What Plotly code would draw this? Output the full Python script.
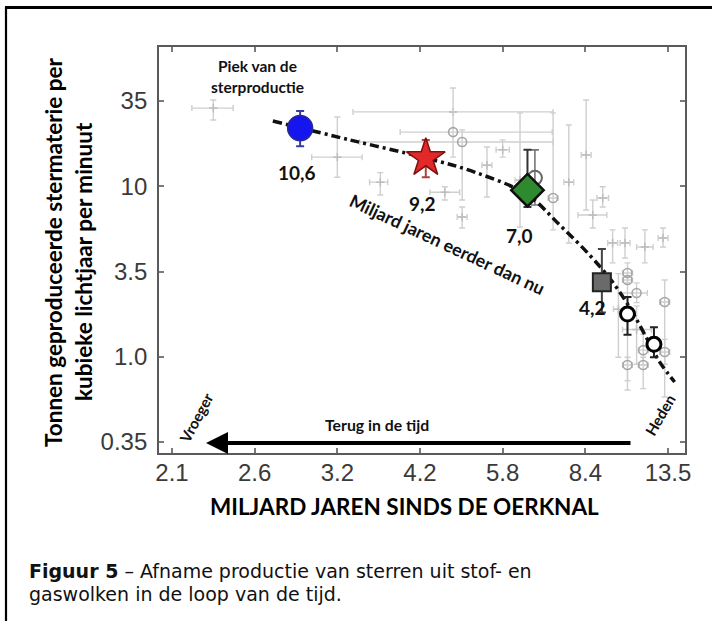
import math
import plotly.graph_objects as go

# ---------------- data ----------------
x_tick_labels = ["2.1", "2.6", "3.2", "4.2", "5.8", "8.4", "13.5"]
y_tick_labels = ["0.35", "1.0", "3.5", "10", "35"]

# main highlighted measurements (x in tick-index units, y in tonnes)
main_x = [1.55, 3.07, 4.30, 5.20, 5.51, 5.83]
main_y = [24.3, 16.2, 10.5, 3.03, 1.97, 1.31]
main_lo = [19.0, 12.5, 8.35, 2.01, 1.49, 1.10]
main_hi = [30.6, 20.7, 18.1, 4.75, 2.48, 1.65]
main_labels = ["10,6", "9,2", "7,0", "4,2", "", ""]

# fitted trend (dash-dot curve)
fit_x = [1.22, 2.15, 3.07, 3.66, 4.30, 4.69, 5.05, 5.33, 5.54, 5.72, 5.90, 6.08]
fit_y = [26.7, 20.7, 16.2, 13.4, 9.84, 6.56, 4.38, 3.03, 2.14, 1.49, 1.03, 0.787]

# background measurements: crosses
bgc_x = [0.50, 2.00, 2.52, 3.30, 3.81, 4.00, 4.21, 4.80, 5.01, 5.09, 5.21, 3.51, 5.33, 5.48, 5.72, 5.94, 3.40, 5.40, 5.62]
bgc_y = [31.8, 16.4, 11.7, 10.2, 14.7, 18.1, 12.0, 11.7, 16.9, 7.51, 9.44, 7.31, 5.14, 5.14, 4.87, 5.50, 30.2, 2.10, 1.60]
bgc_xlo = [0.24, 1.69, 2.39, 3.12, 3.75, 3.92, 4.15, 4.74, 4.95, 4.91, 5.14, 3.45, 5.27, 5.42, 5.62, 5.88, 2.19, 5.34, 5.45]
bgc_xhi = [0.74, 2.30, 2.61, 3.48, 3.87, 4.08, 4.27, 4.86, 5.07, 5.26, 5.28, 3.57, 5.39, 5.54, 5.82, 6.00, 4.61, 5.46, 5.80]
bgc_ylo = [27.1, 12.5, 9.84, 9.19, 9.57, 16.4, 6.38, 5.14, 8.03, 6.30, 8.36, 6.30, 3.93, 4.20, 3.93, 4.87, 30.2, 1.10, 1.00]
bgc_yhi = [35.5, 28.2, 13.3, 11.0, 18.8, 20.7, 29.8, 25.3, 35.5, 9.19, 11.0, 8.36, 6.14, 6.30, 6.14, 6.30, 30.2, 3.40, 2.20]

# background measurements: open circles
bgo_x = [3.40, 3.51, 4.61, 5.51, 5.51, 5.62, 5.96, 5.70, 5.51, 5.70, 5.96]
bgo_y = [23.0, 20.1, 9.44, 3.43, 3.12, 2.62, 2.32, 1.21, 0.99, 0.99, 1.18]
bgo_xlo = [2.76, 2.27, 4.55, 5.45, 5.45, 5.40, 5.90, 5.64, 5.45, 5.64, 5.90]
bgo_xhi = [4.60, 4.61, 4.67, 5.57, 5.57, 5.75, 6.02, 5.76, 5.57, 5.76, 6.02]
bgo_ylo = [16.4, 9.19, 6.14, 0.706, 3.0, 2.30, 0.643, 0.99, 0.80, 0.72, 1.0]
bgo_yhi = [41.7, 23.7, 29.8, 3.93, 3.3, 3.00, 3.12, 1.50, 1.10, 1.10, 1.4]

# hidden dark open circle behind the green diamond
dark_x = [4.39]
dark_y = [12.4]
dark_lo = [8.6]
dark_hi = [18.1]

# ---------------- layout geometry ----------------
W, H = 712, 621
L, R, T, B = 159, 685, 47, 453
PW, PH = R - L, B - T


def px(xp):
    return (xp - L) / PW


def py(yp):
    return (B - yp) / PH


def plus_minus(v, lo, hi):
    return [h - c for c, h in zip(v, hi)], [c - l for c, l in zip(v, lo)]


fig = go.Figure()

GRAY = "#cfcfcf"

# background crosses
ep, em = plus_minus(bgc_y, bgc_ylo, bgc_yhi)
xp_, xm_ = plus_minus(bgc_x, bgc_xlo, bgc_xhi)
fig.add_trace(go.Scatter(
    x=bgc_x, y=bgc_y, mode="markers",
    marker=dict(symbol="cross-thin", size=6, line=dict(color="#bdbdbd", width=1.5)),
    error_y=dict(type="data", symmetric=False, array=ep, arrayminus=em, color=GRAY, thickness=1.4, width=3),
    error_x=dict(type="data", symmetric=False, array=xp_, arrayminus=xm_, color=GRAY, thickness=1.4, width=3),
    hoverinfo="skip", showlegend=False))

# background open circles
ep, em = plus_minus(bgo_y, bgo_ylo, bgo_yhi)
xp_, xm_ = plus_minus(bgo_x, bgo_xlo, bgo_xhi)
fig.add_trace(go.Scatter(
    x=bgo_x, y=bgo_y, mode="markers",
    marker=dict(symbol="circle-open", size=9, color="#a5a5a5", line=dict(width=1.6)),
    error_y=dict(type="data", symmetric=False, array=ep, arrayminus=em, color=GRAY, thickness=1.4, width=3),
    error_x=dict(type="data", symmetric=False, array=xp_, arrayminus=xm_, color=GRAY, thickness=1.4, width=3),
    hoverinfo="skip", showlegend=False))

ep, em = plus_minus(dark_y, dark_lo, dark_hi)
fig.add_trace(go.Scatter(
    x=dark_x, y=dark_y, mode="markers",
    marker=dict(symbol="circle-open", size=14, color="#666666", line=dict(width=2)),
    error_y=dict(type="data", symmetric=False, array=ep, arrayminus=em, color="#777777", thickness=1.6, width=4),
    hoverinfo="skip", showlegend=False))

# trend curve
fig.add_trace(go.Scatter(
    x=fit_x, y=fit_y, mode="lines",
    line=dict(color="#111111", width=3.5, dash="9px,4px,3px,4px", shape="spline"),
    hoverinfo="skip", showlegend=False))

# main points with individual styling
styles = [
    dict(symbol="circle", size=25, color="#1515f0", line=dict(color="#2a2a90", width=1.5), err="#3a3aa0"),
    dict(symbol="star", size=29, color="#e22828", line=dict(color="#801010", width=1.5), err="#b04040"),
    dict(symbol="diamond", size=25, color="#2e8a2e", line=dict(color="#101010", width=2.5), err="#333333"),
    dict(symbol="square", size=18, color="#6a6a6a", line=dict(color="#222222", width=2), err="#444444"),
    dict(symbol="circle", size=14, color="#ffffff", line=dict(color="#000000", width=3), err="#222222"),
    dict(symbol="circle", size=14, color="#ffffff", line=dict(color="#000000", width=3), err="#222222"),
]
for i, st in enumerate(styles):
    fig.add_trace(go.Scatter(
        x=[main_x[i]], y=[main_y[i]], mode="markers",
        marker=dict(symbol=st["symbol"], size=st["size"], color=st["color"], line=st["line"]),
        error_y=dict(type="data", symmetric=False,
                     array=[main_hi[i] - main_y[i]], arrayminus=[main_y[i] - main_lo[i]],
                     color=st["err"], thickness=2, width=4),
        hoverinfo="skip", showlegend=False))

annotations = []
label_shift = [(-3, -44), (-3, -45), (-8, -45), (-9, -25)]
for i, lab in enumerate(main_labels):
    if not lab:
        continue
    annotations.append(dict(
        x=main_x[i], y=math.log10(main_y[i]), xref="x", yref="y",
        xanchor="center", yanchor="middle",
        text="<b>%s</b>" % lab, showarrow=False,
        xshift=label_shift[i][0], yshift=label_shift[i][1],
        font=dict(family="Lato", size=19, color="#111111")))


def note(xp, yp, text, size, angle=0, family="Lato", color="#111111", xanchor="center"):
    return dict(x=px(xp), y=py(yp), xref="paper", yref="paper", text=text,
                xanchor=xanchor, yanchor="middle", showarrow=False, textangle=angle,
                font=dict(size=size, family=family, color=color))


annotations += [
    note(257, 66, "<b>Piek van de</b>", 15.5),
    note(257, 87, "<b>sterproductie</b>", 15.5),
    note(447, 244, "<b>Miljard jaren eerder dan nu</b>", 17.8, angle=25),
    note(377, 424, "<b>Terug in de tijd</b>", 15.8),
    note(196, 418, "<b>Vroeger</b>", 15, angle=-62),
    note(660, 415, "<b>Heden</b>", 15, angle=-60),
    # axis titles
    note(53, 252, "<b>Tonnen geproduceerde stermaterie per</b>", 22.5, angle=-90, color="#000000"),
    note(83, 262, "<b>kubieke lichtjaar per minuut</b>", 22.5, angle=-90, color="#000000"),
    note(404, 506, "<b>MILJARD JAREN SINDS DE OERKNAL</b>", 22.5, color="#000000"),
    # caption
    note(27, 571, "<b>Figuur 5</b> \u2013 Afname productie van sterren uit stof- en", 19,
         family="DejaVu Sans", xanchor="left"),
    note(27, 594, "gaswolken in de loop van de tijd.", 19, family="DejaVu Sans", xanchor="left"),
    # arrow
    dict(x=px(206), y=py(443), xref="paper", yref="paper", ax=632 - 206, ay=0,
         axref="pixel", ayref="pixel", text="", showarrow=True,
         arrowhead=2, arrowsize=1.1, arrowwidth=4, arrowcolor="#000000"),
]

y_tickvals = [0.35 * 10 ** (k / 2) for k in range(len(y_tick_labels))]
y_log_top = math.log10(y_tickvals[-1]) + (101 - T) / 170.5
y_log_bot = math.log10(y_tickvals[0]) - (B - 442) / 170.5
x_unit = 82.7
x_range = [-(172 - L) / x_unit, (len(x_tick_labels) - 1) + (R - 668) / x_unit]

axis_common = dict(showgrid=False, zeroline=False, showline=True, linecolor="#5a5a5a",
                   linewidth=1.8, mirror="ticks", ticks="inside", ticklen=5,
                   tickcolor="#7a7a7a", tickwidth=1.5,
                   tickfont=dict(family="Liberation Sans", size=24, color="#3a3a3a"))

fig.update_layout(
    width=W, height=H,
    margin=dict(l=L, r=W - R, t=T, b=H - B),
    paper_bgcolor="white", plot_bgcolor="white",
    xaxis=dict(range=x_range, tickvals=list(range(len(x_tick_labels))), ticktext=x_tick_labels,
               ticklabelstandoff=-3, **axis_common),
    yaxis=dict(type="log", range=[y_log_bot, y_log_top], tickvals=y_tickvals, ticktext=y_tick_labels,
               ticklabelstandoff=5, **axis_common),
    annotations=annotations,
    shapes=[
        # outer frame: only the left and top edges fall inside the picture
        dict(type="line", xref="paper", yref="paper", x0=px(6), x1=px(6), y0=py(625), y1=py(7),
             line=dict(color="#000000", width=2.2)),
        dict(type="line", xref="paper", yref="paper", x0=px(5), x1=px(716), y0=py(7.5), y1=py(7.5),
             line=dict(color="#000000", width=3)),
    ],
)

fig.write_html(
    "out.html",
    config={"displayModeBar": False},
    post_script="document.body.style.margin='0';document.body.style.padding='0';"
                "document.body.style.overflow='hidden';",
)
